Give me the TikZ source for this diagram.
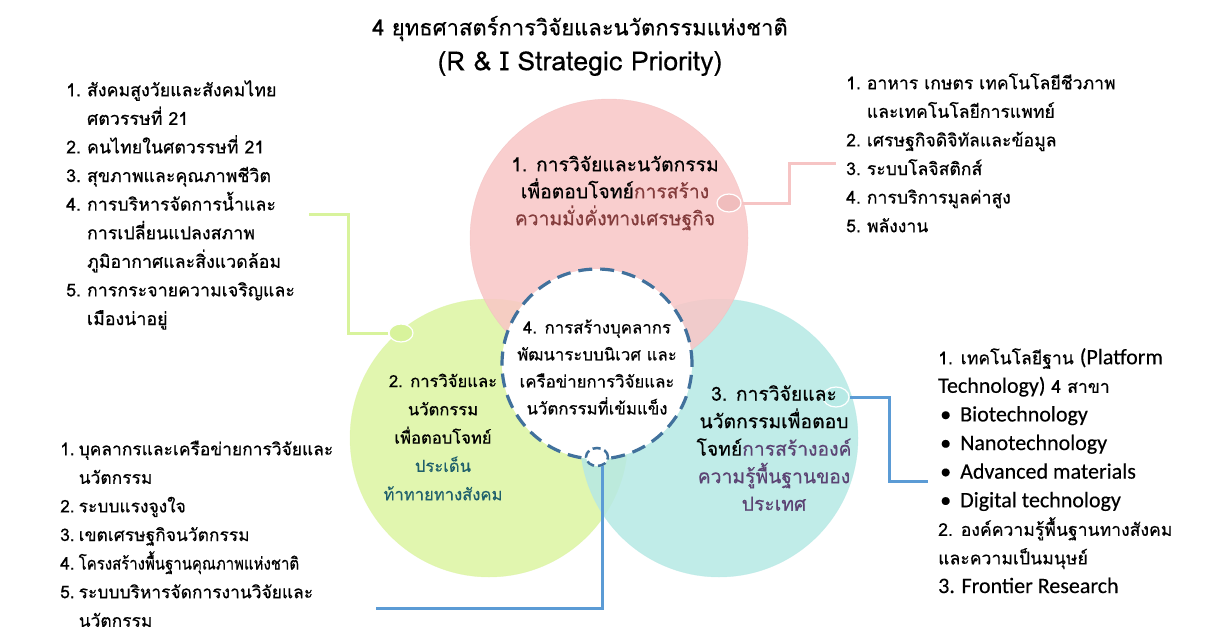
\documentclass[tikz,border=0pt]{standalone}
\usepackage{fontspec}
\setmainfont{Loma}[Script=Thai,FakeBold=0.5]
\newfontfamily\latf{Carlito}[FakeBold=0.3]
\newfontfamily\titlef{Loma}[Script=Thai,FakeBold=0.25]
\usetikzlibrary{shapes.geometric}
\definecolor{pinkc}{HTML}{F9C6C6}
\definecolor{greenc}{HTML}{DCF5A2}
\definecolor{cyanc}{HTML}{B6E9E5}
\definecolor{pinkl}{HTML}{F6C4C4}
\definecolor{pinkd}{HTML}{F0BDBD}
\definecolor{greenl}{HTML}{D8F39C}
\definecolor{bluel}{HTML}{5B9BD5}
\definecolor{dashb}{HTML}{41719C}
\definecolor{tpink}{HTML}{843C3C}
\definecolor{tgreen}{HTML}{1F5F6B}
\definecolor{tcyan}{HTML}{5B4373}
\tikzset{
  bigcirc/.style={circle, minimum size=278pt, inner sep=0, fill opacity=0.85, draw opacity=0.6},
  listbox/.style={anchor=north west, inner sep=0, align=left, font=\fontsize{17.6}{28.6}\selectfont},
  circtext/.style={align=center, inner sep=0, font=\fontsize{19.3}{27}\selectfont},
  dotnode/.style={ellipse, minimum width=24pt, minimum height=18pt, inner sep=0, draw=white, line width=1.2pt},
  conn/.style={line width=3pt},
}
\newcommand{\eng}[1]{{\latf\fontsize{22}{28.6}\selectfont #1}}
\newcommand{\bul}[1]{{\latf\fontsize{22}{28.6}\selectfont\makebox[22pt][l]{\hspace{2pt}•}#1}}
\begin{document}
\begin{tikzpicture}[x=1pt,y=-1pt]
\fill[white] (0,0) rectangle (1212,637);
\useasboundingbox (0,0) rectangle (1212,637);
% big circles
\node[bigcirc, fill=greenc, draw=greenc] (green) at (489,438) {};
\node[bigcirc, fill=cyanc, draw=cyanc] (cyan) at (719,438) {};
\node[bigcirc, fill=pinkc, draw=pinkd] (pink) at (609,238) {};
\node[circle, minimum size=190pt, inner sep=0, fill=white, draw=dashb, line width=3.2pt, dash pattern=on 14pt off 8pt] (core) at (597,364) {};
% small dots
\node[dotnode, fill=pinkd] (pdot) at (729,203) {};
\node[dotnode, fill=greenl] (gdot) at (401,333) {};
\node[dotnode, fill=cyanc, minimum width=26pt, minimum height=20pt] (cdot) at (836,397) {};
\node[ellipse, minimum width=22pt, minimum height=18pt, inner sep=0, fill=white, draw=dashb, line width=2.5pt, dash pattern=on 8pt off 4pt] (bdot) at (597,457) {};
% connector ends
\coordinate (pbend) at (789,203);
\coordinate (pend) at (836,163);
\coordinate (gbend) at (348,333);
\coordinate (gend) at (309,214);
\coordinate (cbend) at (889,397);
\coordinate (cend) at (928,481);
\coordinate (bleft) at (376,608);
\draw[conn, pinkl] (pdot.east) -- (pbend) |- (pend);
\draw[conn, greenl] (gdot.west) -- (gbend) |- (gend);
\draw[conn, bluel] (cdot.east) -- (cbend) |- (cend);
\draw[conn, bluel] (bdot.-60) |- (bleft);
% title
\node[align=center, inner sep=0] (title) at (580,46) {{\fontsize{22}{30}\selectfont 4 ยุทธศาสตร์การวิจัยและนวัตกรรมแห่งชาติ}\\[9pt]{\titlef\fontsize{26.5}{30}\selectfont (R \& I Strategic Priority)}};
% circle texts
\node[circtext] (ptext) at (615,193) {1. การวิจัยและนวัตกรรม\\เพื่อตอบโจทย์{\color{tpink}การสร้าง}\\{\color{tpink}ความมั่งคั่งทางเศรษฐกิจ}};
\node[circtext, font=\fontsize{16.8}{27}\selectfont] (ctext) at (597,367) {4. การสร้างบุคลากร\\พัฒนาระบบนิเวศ และ\\เครือข่ายการวิจัยและ\\นวัตกรรมที่เข้มแข็ง};
\node[circtext, font=\fontsize{16.6}{28.3}\selectfont] (gtext) at (443,437) {2. การวิจัยและ\\นวัตกรรม\\เพื่อตอบโจทย์\\{\color{tgreen}ประเด็น}\\{\color{tgreen}ท้าทายทางสังคม}};
\node[circtext, font=\fontsize{19.3}{27.5}\selectfont] (cytext) at (774,448) {3. การวิจัยและ\\นวัตกรรมเพื่อตอบ\\โจทย์{\color{tcyan}การสร้างองค์}\\{\color{tcyan}ความรู้พื้นฐานของ}\\{\color{tcyan}ประเทศ}};
% lists
\node[listbox, font=\fontsize{17.8}{28.6}\selectfont] (list1) at (66,76) {\begin{tabular}{@{}l@{\hspace{6pt}}l@{}}
1. & สังคมสูงวัยและสังคมไทย\\
   & ศตวรรษที่ 21\\
2. & คนไทยในศตวรรษที่ 21\\
3. & สุขภาพและคุณภาพชีวิต\\
4. & การบริหารจัดการน้ำและ\\
   & การเปลี่ยนแปลงสภาพ\\
   & ภูมิอากาศและสิ่งแวดล้อม\\
5. & การกระจายความเจริญและ\\
   & เมืองน่าอยู่
\end{tabular}};
\node[listbox] (list2) at (846,69) {\begin{tabular}{@{}l@{\hspace{6pt}}l@{}}
1. & อาหาร เกษตร เทคโนโลยีชีวภาพ\\
   & และเทคโนโลยีการแพทย์\\
2. & เศรษฐกิจดิจิทัลและข้อมูล\\
3. & ระบบโลจิสติกส์\\
4. & การบริการมูลค่าสูง\\
5. & พลังงาน
\end{tabular}};
\node[listbox, font=\fontsize{17.4}{28.6}\selectfont] (list4) at (60,435) {\begin{tabular}{@{}l@{\hspace{4pt}}l@{}}
1. & บุคลากรและเครือข่ายการวิจัยและ\\
   & นวัตกรรม\\
2. & ระบบแรงจูงใจ\\
3. & เขตเศรษฐกิจนวัตกรรม\\
4. & \scalebox{0.86}[1]{โครงสร้างพื้นฐานคุณภาพแห่งชาติ}\\
5. & ระบบบริหารจัดการงานวิจัยและ\\
   & นวัตกรรม
\end{tabular}};
\node[listbox] (list3) at (938,344) {\begin{tabular}{@{}l@{}}
1. เทคโนโลยีฐาน \eng{(Platform}\\
\eng{Technology)} 4 สาขา\\
\bul{Biotechnology}\\
\bul{Nanotechnology}\\
\bul{Advanced materials}\\
\bul{Digital technology}\\
2. องค์ความรู้พื้นฐานทางสังคม\\
และความเป็นมนุษย์\\
\eng{3. Frontier Research}
\end{tabular}};
\end{tikzpicture}
\end{document}
